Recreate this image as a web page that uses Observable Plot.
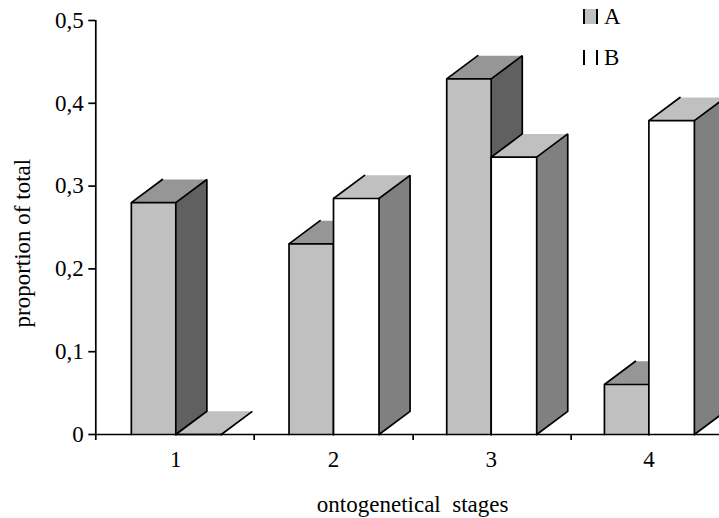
<!DOCTYPE html>
<html><head><meta charset="utf-8">
<script src="https://cdn.jsdelivr.net/npm/d3@7"></script>
<script src="https://cdn.jsdelivr.net/npm/@observablehq/plot@0.6"></script>
<style>
html,body{margin:0;padding:0;background:#fff;overflow:hidden}
#wrap{position:relative;width:719px;height:518px}
#wrap svg{display:block;background:#fff}
.lg{position:absolute;left:583px;font:23px "Liberation Serif",serif;color:#000;line-height:15px;display:flex;align-items:center}
.lg i{display:block;width:11px;height:15px;border-left:2px solid #000;border-right:2px solid #000;margin-right:6px}
</style></head><body><div id="wrap"></div>
<script>
const stages = [1, 2, 3, 4];
const seriesA = [0.28, 0.2303, 0.4295, 0.0604];
const seriesB = [0, 0.285, 0.335, 0.379];
const yTicks = [0, 0.1, 0.2, 0.3, 0.4, 0.5];
const groupEdges = [0.4927, 1.497, 2.505, 3.507];
const seriesStyles = [
  {name: "A", values: seriesA, front: "#c0c0c0", top: "#969696", side: "#606060", off: -0.282, w: 0.282},
  {name: "B", values: seriesB, front: "#ffffff", top: "#c0c0c0", side: "#808080", off: 0, w: 0.2885}
];
const depthX = 0.197, depthY = 0.028;
const font = '"Liberation Serif",serif';

const marks = [];
function face(pts, fill){ marks.push(Plot.line(pts.concat([pts[0]]), {x:"0", y:"1", fill, stroke:"none", curve:"linear"})); }
function edge(pts, sw=1.7){ marks.push(Plot.line(pts, {x:"0", y:"1", stroke:"#000", strokeWidth:sw, strokeLinejoin:"miter", curve:"linear"})); }

stages.forEach((s, i) => {
  seriesStyles.forEach(st => {
    const v = st.values[i], x0 = s + st.off, x1 = x0 + st.w;
    const xb0 = x0 + depthX, xb1 = x1 + depthX, v2 = v + depthY;
    face([[x1,0],[xb1,depthY],[xb1,v2],[x1,v]], st.side);
    face([[x0,v],[xb0,v2],[xb1,v2],[x1,v]], st.top);
    face([[x0,0],[x1,0],[x1,v],[x0,v]], st.front);
    edge([[x1,0],[xb1,depthY],[xb1,v2],[x1,v]]);
    edge([[xb0,v2],[x0,v],[x1,v]]);
    edge([[x0,0],[x0,v]]);
    edge([[x1,0],[x1,v]]);
  });
});

const chart = Plot.plot({
  width: 719, height: 518,
  marginLeft: 95.3, marginRight: 0, marginTop: 20, marginBottom: 84,
  style: {fontFamily: font, fontSize: "23px", color: "#000", background: "#fff", overflow: "hidden"},
  x: {type: "linear", domain: [0.4927, 4.4477], axis: null},
  y: {domain: [0, 0.5], axis: null},
  marks: [
    ...marks,
    Plot.ruleY([0], {stroke: "#000", strokeWidth: 1.7}),
    Plot.ruleX([0.4927], {stroke: "#000", strokeWidth: 1.7}),
    Plot.axisY({ticks: yTicks, tickSize: 7, tickPadding: 5, tickFormat: d => String(d).replace(".", ","), label: null, stroke: "#000", strokeWidth: 1.7, fontSize: 23}),
    Plot.axisX({ticks: groupEdges, tickSize: 6, tickFormat: () => "", label: null, stroke: "#000", strokeWidth: 1.7}),
    Plot.axisX({ticks: stages, tickSize: 0, tickPadding: 16, tickFormat: d => String(d), label: null, fontSize: 23}),
    Plot.text(["ontogenetical  stages"], {frameAnchor: "bottom", dy: 70, dx: 5, fontSize: 23, lineAnchor: "middle", style: {whiteSpace: "pre"}}),
    Plot.text(["proportion of total"], {frameAnchor: "left", rotate: -90, dx: -73, dy: 100, fontSize: 23})
  ]
});
const wrap = document.getElementById("wrap");
wrap.appendChild(chart);
seriesStyles.forEach((st, i) => {
  const d = document.createElement("div");
  d.className = "lg";
  d.style.top = (9 + i * 41) + "px";
  const k = document.createElement("i");
  k.style.background = st.front;
  d.appendChild(k);
  d.appendChild(document.createTextNode(st.name));
  wrap.appendChild(d);
});
</script></body></html>
